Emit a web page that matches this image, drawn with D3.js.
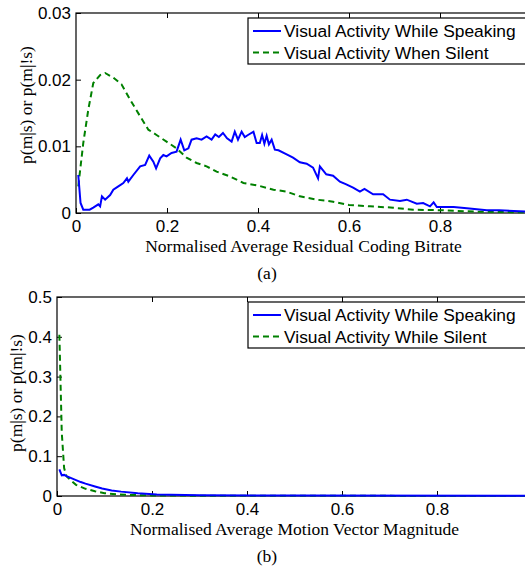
<!DOCTYPE html>
<html>
<head>
<meta charset="utf-8">
<script src="https://cdn.jsdelivr.net/npm/d3@7"></script>
<style>
    body { margin: 0; background: #fff; }
    .tick text { font-family: "Liberation Sans", Arial, sans-serif; font-size: 17px; fill: #000; }
    .label { font-family: "Liberation Serif", "Times New Roman", serif; font-size: 17.5px; fill: #000; }
    .legend text { font-family: "Liberation Sans", Arial, sans-serif; font-size: 17.4px; fill: #000; }
</style>
</head>
<body>
<svg id="chart" width="525" height="569" viewBox="0 0 525 569"></svg>
<script>
// (a) residual coding bitrate, [x, p]
const speakingA = [
    [0.005,0.0057],[0.010,0.0015],[0.016,0.0005],[0.030,0.0005],[0.038,0.0008],[0.049,0.0013],
    [0.053,0.0010],[0.057,0.0025],[0.064,0.0020],[0.075,0.0027],[0.082,0.0035],[0.093,0.0040],
    [0.104,0.0045],[0.112,0.0052],[0.115,0.0047],[0.126,0.0057],[0.141,0.0070],[0.152,0.0072],
    [0.161,0.0086],[0.170,0.0077],[0.176,0.0067],[0.185,0.0082],[0.192,0.0087],[0.199,0.0085],
    [0.210,0.0090],[0.221,0.0092],[0.230,0.0110],[0.238,0.0094],[0.247,0.0097],[0.254,0.0110],
    [0.265,0.0112],[0.276,0.0110],[0.287,0.0115],[0.298,0.0110],[0.306,0.0118],[0.314,0.0114],
    [0.323,0.0120],[0.332,0.0112],[0.342,0.0107],[0.349,0.0122],[0.356,0.0110],[0.364,0.0122],
    [0.371,0.0114],[0.378,0.0117],[0.390,0.0122],[0.397,0.0105],[0.404,0.0105],[0.409,0.0117],
    [0.414,0.0104],[0.419,0.0116],[0.424,0.0103],[0.430,0.0110],[0.437,0.0095],[0.445,0.0094],
    [0.463,0.0088],[0.477,0.0083],[0.492,0.0076],[0.507,0.0074],[0.521,0.0068],[0.532,0.0052],
    [0.536,0.0070],[0.550,0.0058],[0.565,0.0056],[0.580,0.0047],[0.594,0.0043],[0.609,0.0038],
    [0.624,0.0032],[0.634,0.0036],[0.653,0.0028],[0.675,0.0028],[0.690,0.0020],[0.712,0.0018],
    [0.727,0.0020],[0.749,0.0014],[0.763,0.0015],[0.778,0.0010],[0.786,0.0016],[0.793,0.0009],
    [0.830,0.0009],[0.859,0.0007],[0.903,0.0004],[0.930,0.0004],[0.990,0.0002]
];
const silentA = [
    [0.005,0.0040],[0.016,0.0105],[0.027,0.0155],[0.038,0.0195],[0.053,0.0207],[0.064,0.0210],
    [0.082,0.0203],[0.100,0.0193],[0.119,0.0170],[0.141,0.0145],[0.159,0.0125],[0.177,0.0117],
    [0.199,0.0107],[0.221,0.0097],[0.243,0.0083],[0.265,0.0075],[0.287,0.0070],[0.309,0.0062],
    [0.338,0.0055],[0.368,0.0045],[0.401,0.0041],[0.434,0.0035],[0.463,0.0032],[0.492,0.0025],
    [0.529,0.0020],[0.565,0.0017],[0.600,0.0012],[0.646,0.0010],[0.697,0.0008],[0.741,0.0005],
    [0.807,0.0004],[0.880,0.0002],[0.990,0.0001]
];

// (b) motion vector magnitude
const speakingB = [
    [0.005,0.067],[0.010,0.052],[0.015,0.053],[0.020,0.050],[0.030,0.045],[0.040,0.040],
    [0.050,0.035],[0.060,0.031],[0.080,0.024],[0.095,0.019],[0.115,0.014],[0.135,0.011],
    [0.170,0.007],[0.210,0.004],[0.300,0.002],[0.500,0.001],[0.990,0.0005]
];
const silentB = [
    [0.005,0.405],[0.010,0.160],[0.015,0.070],[0.020,0.050],[0.030,0.038],[0.040,0.028],
    [0.060,0.018],[0.080,0.012],[0.100,0.007],[0.130,0.004],[0.160,0.0025],[0.200,0.0015],
    [0.300,0.0008],[0.500,0.0004],[0.990,0.0002]
];

const xTicks = [0, 0.2, 0.4, 0.6, 0.8];
const yTicksA = [0, 0.01, 0.02, 0.03];
const yTicksB = [0, 0.1, 0.2, 0.3, 0.4, 0.5];

const svg = d3.select("#chart");

function panel(opts)
{
    const g = svg.append("g");
    const x = d3.scaleLinear().domain([0, 1]).range([opts.left, opts.right]);
    const y = d3.scaleLinear().domain([0, opts.ymax]).range([opts.bottom, opts.top]);

    // axes, ticks pointing inward
    g.append("g")
        .attr("transform", `translate(0,${opts.bottom})`)
        .call(d3.axisBottom(x).tickValues(xTicks).tickSizeInner(-5).tickSizeOuter(0).tickPadding(7)
            .tickFormat(d => d === 0 ? "0" : d3.format(".1f")(d)));
    g.append("g")
        .attr("transform", `translate(0,${opts.top})`)
        .call(d3.axisTop(x).tickValues(xTicks.slice(1)).tickSizeInner(-5).tickSizeOuter(0).tickFormat(""));
    g.append("g")
        .attr("transform", `translate(${opts.left},0)`)
        .call(d3.axisLeft(y).tickValues(opts.yTicks).tickSizeInner(-5).tickSizeOuter(0).tickPadding(5)
            .tickFormat(d => d === 0 ? "0" : opts.fmt(d)));
    g.append("g")
        .attr("transform", `translate(${opts.right},0)`)
        .call(d3.axisRight(y).tickValues(opts.yTicks).tickSizeInner(-5).tickSizeOuter(0).tickFormat(""));
    g.selectAll(".domain").remove();
    g.selectAll(".tick line").attr("stroke", "#000");

    g.append("rect")
        .attr("x", opts.left).attr("y", opts.top)
        .attr("width", opts.right - opts.left).attr("height", opts.bottom - opts.top)
        .attr("fill", "none").attr("stroke", "#000").attr("stroke-width", 1.2);

    const line = d3.line().x(d => x(d[0])).y(d => y(d[1]));

    g.append("path")
        .datum(opts.silent)
        .attr("d", line)
        .attr("fill", "none").attr("stroke", "#008000").attr("stroke-width", 2)
        .attr("stroke-dasharray", "6,4");
    g.append("path")
        .datum(opts.speaking)
        .attr("d", line)
        .attr("fill", "none").attr("stroke", "#0000ff").attr("stroke-width", 2);

    // legend
    const lg = g.append("g").attr("class", "legend");
    lg.append("rect")
        .attr("x", 248).attr("y", opts.top + 5)
        .attr("width", 290).attr("height", 46)
        .attr("fill", "#fff").attr("stroke", "#000").attr("stroke-width", 1.2);
    opts.names.forEach((name, i) => {
        const yy = opts.top + 18 + i * 21.5;
        lg.append("line")
            .attr("x1", 253).attr("x2", 281).attr("y1", yy).attr("y2", yy)
            .attr("stroke", i === 0 ? "#0000ff" : "#008000").attr("stroke-width", 2)
            .attr("stroke-dasharray", i === 0 ? null : "6,4");
        lg.append("text")
            .attr("x", 284).attr("y", yy + 6)
            .text(name);
    });

    g.append("text")
        .attr("class", "label")
        .attr("text-anchor", "middle")
        .attr("x", x(0.5)).attr("y", opts.bottom + 38.5)
        .text(opts.xlabel);
    g.append("text")
        .attr("class", "label")
        .attr("text-anchor", "middle")
        .attr("transform", `translate(${opts.ylabelX},${opts.ylabelY}) rotate(-90)`)
        .text("p(m|s) or p(m|!s)");
    g.append("text")
        .attr("class", "label")
        .attr("text-anchor", "middle")
        .attr("x", 267).attr("y", opts.bottom + 66)
        .text(opts.caption);
}

panel({
    left: 76, right: 531, top: 13, bottom: 213, ymax: 0.03,
    yTicks: yTicksA, fmt: d3.format(".2f"),
    speaking: speakingA, silent: silentA,
    names: ["Visual Activity While Speaking", "Visual Activity When Silent"],
    xlabel: "Normalised Average Residual Coding Bitrate",
    ylabelX: 32, ylabelY: 105, caption: "(a)"
});

panel({
    left: 57, right: 532, top: 297, bottom: 496, ymax: 0.5,
    yTicks: yTicksB, fmt: d3.format(".1f"),
    speaking: speakingB, silent: silentB,
    names: ["Visual Activity While Speaking", "Visual Activity While Silent"],
    xlabel: "Normalised Average Motion Vector Magnitude",
    ylabelX: 22, ylabelY: 393, caption: "(b)"
});
</script>
</body>
</html>
